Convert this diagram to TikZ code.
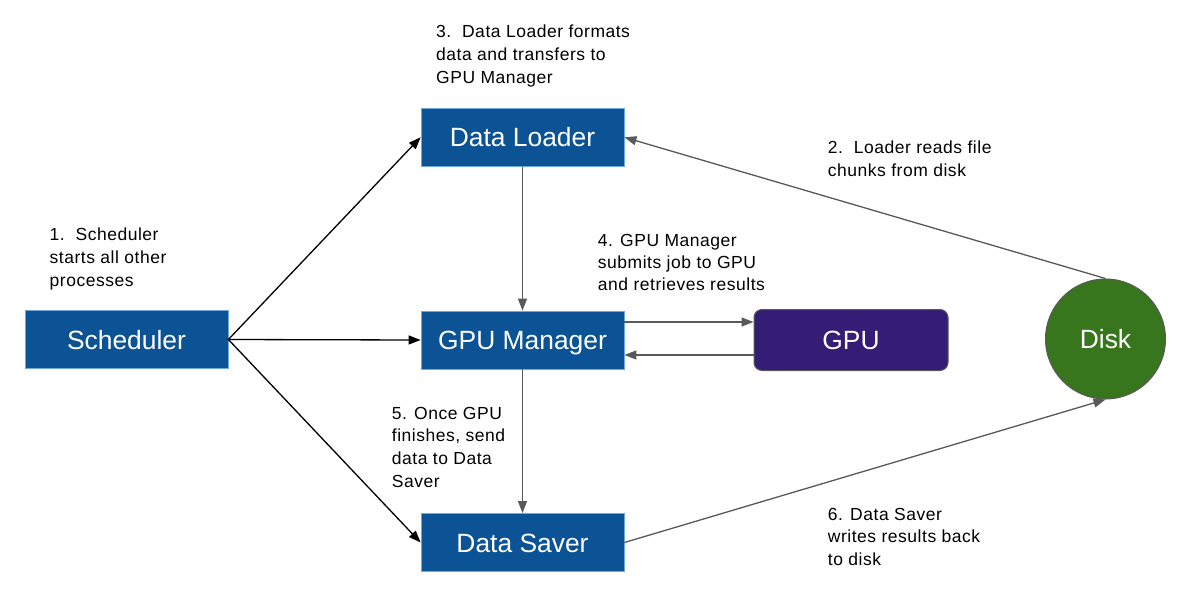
\documentclass[tikz,border=0pt]{standalone}
\usepackage{fontspec}
\setmainfont{Liberation Sans}
\newfontfamily\notefont[LetterSpace=3]{Liberation Sans}
\usetikzlibrary{arrows.meta,shapes.geometric}
\definecolor{boxblue}{HTML}{0B5394}
\definecolor{boxedge}{HTML}{6FA8DC}
\definecolor{gpupurple}{HTML}{351C75}
\definecolor{diskgreen}{HTML}{38761D}
\definecolor{linegray}{HTML}{595959}
\begin{document}
\begin{tikzpicture}[x=1pt,y=-1pt,
  nodetext/.style={text=white, text height=19pt, text depth=0pt,
    font=\fontsize{26.4}{30}\selectfont},
  procbox/.style={rectangle, fill=boxblue, draw=boxedge, line width=0.8pt, inner sep=0pt,
    minimum width=203pt, minimum height=58pt, nodetext},
  gpubox/.style={rectangle, rounded corners=8pt, fill=gpupurple, draw=linegray, line width=1pt,
    inner sep=0pt, minimum width=194pt, minimum height=61pt, nodetext},
  diskcirc/.style={circle, fill=diskgreen, draw=linegray, line width=1pt, inner sep=0pt,
    minimum size=120pt, nodetext},
  note/.style={anchor=base west, align=left, inner sep=0pt,
    font=\notefont\fontsize{17.5}{23}\selectfont},
  blackarrow/.style={-{Triangle[length=12pt,width=9pt]}, line width=1.3pt, black},
  grayarrow/.style={-{Triangle[length=12pt,width=9pt]}, line width=1.3pt, linegray}
]
\useasboundingbox (0,0) rectangle (1200,600);
\fill[white] (0,0) rectangle (1200,600);

\node[procbox] (sched) at (126.5,339.5) {Scheduler};
\node[procbox] (loader) at (522.5,137.3) {Data Loader};
\node[procbox] (gpum) at (522.5,340) {GPU Manager};
\node[procbox] (saver) at (522.5,542.5) {Data Saver};
\node[gpubox] (gpu) at (851,340) {GPU};
\node[diskcirc] (disk) at (1105.5,339) {Disk};

% base anchor = baseline of the last line
\node[note] (n1) at (49.5,286) {1.\ \ Scheduler\\starts all other\\processes};
\node[note] (n2) at (827.7,176) {2.\ \ Loader reads file\\chunks from disk};
\node[note] (n3) at (436,83) {3.\ \ Data Loader formats\\data and transfers to\\GPU Manager};
\node[note, font=\notefont\fontsize{17.5}{22}\selectfont] (n4) at (597.7,290.7) {4. GPU Manager\\submits job to GPU\\and retrieves results};
\node[note, font=\notefont\fontsize{17.5}{22.6}\selectfont] (n5) at (391.7,487) {5. Once GPU\\finishes, send\\data to Data\\Saver};
\node[note, font=\notefont\fontsize{17.5}{22.5}\selectfont] (n6) at (827.7,565) {6. Data Saver\\writes results back\\to disk};

\draw[blackarrow] (sched.east) -- (loader.west);
\draw[blackarrow] (sched.east) -- (gpum.west);
\draw[blackarrow] (sched.east) -- (saver.west);

\draw[grayarrow] (loader.south) -- (gpum.north);
\draw[grayarrow] (gpum.south) -- (saver.north);
\draw[grayarrow] ([yshift=18pt]gpum.east) -- ([yshift=18pt]gpu.west);
\draw[grayarrow] ([yshift=-15pt]gpu.west) -- ([yshift=-15pt]gpum.east);
\draw[grayarrow] (disk.north) -- (loader.east);
\draw[grayarrow] (saver.east) -- (disk.south);
\end{tikzpicture}
\end{document}
